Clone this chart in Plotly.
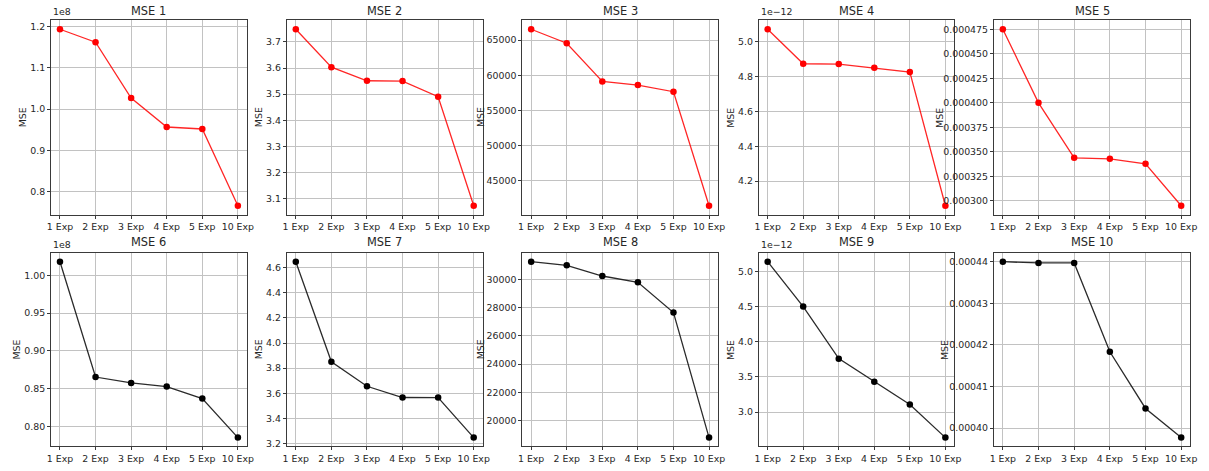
import numpy as np
import plotly.graph_objects as go

# ---------------- data ----------------
categories = ["1 Exp", "2 Exp", "3 Exp", "4 Exp", "5 Exp", "10 Exp"]
titles = ["MSE 1", "MSE 2", "MSE 3", "MSE 4", "MSE 5",
          "MSE 6", "MSE 7", "MSE 8", "MSE 9", "MSE 10"]

mse1 = [1.1928e8, 1.1614e8, 1.0265e8, 0.9566e8, 0.9518e8, 0.7663e8]
mse2 = [3.7483, 3.6034, 3.5513, 3.5500, 3.4903, 3.0733]
mse3 = [66560, 64574, 59137, 58617, 57671, 41454]
mse4 = [5.0724e-12, 4.8743e-12, 4.8724e-12, 4.8514e-12, 4.8267e-12, 4.0590e-12]
mse5 = [0.000475, 0.0003999, 0.0003438, 0.0003428, 0.0003377, 0.0002949]
mse6 = [1.0179e8, 0.8656e8, 0.8578e8, 0.8530e8, 0.8372e8, 0.7856e8]
mse7 = [4.6475, 3.8512, 3.6561, 3.5665, 3.5660, 3.2475]
mse8 = [31274, 31014, 30259, 29811, 27665, 18774]
mse9 = [5.137e-12, 4.500e-12, 3.7594e-12, 3.4292e-12, 3.1085e-12, 2.6368e-12]
mse10 = [0.00044, 0.0004397, 0.0004397, 0.00041833, 0.0004047, 0.00039769]

series = [mse1, mse2, mse3, mse4, mse5, mse6, mse7, mse8, mse9, mse10]

# tick settings per panel: (scale, step, decimals, offset label)
tick_cfg = [
    (1e8, 0.1, 1, "1e8"),
    (1, 0.1, 1, None),
    (1, 5000, 0, None),
    (1e-12, 0.2, 1, "1e\u221212"),
    (1, 0.000025, 6, None),
    (1e8, 0.05, 2, "1e8"),
    (1, 0.2, 1, None),
    (1, 2000, 0, None),
    (1e-12, 0.5, 1, "1e\u221212"),
    (1, 0.00001, 5, None),
]

# ---------------- layout geometry (pixels) ----------------
W, H = 1209, 471
col_px = [(47.5, 245), (285.5, 483), (523, 720.5), (761.7, 959), (999, 1197)]
row_px = [(20.5, 215.5), (254, 448.3)]
ylab_x = [[19, 257, 481, 733, 944], [13, 257, 481, 733, 949]]
title_y = [11, 243.5]

FONT = "DejaVu Sans"
TICK = 9.4
TITLE = 11.4
TXT = "#262626"
AX = "#3a3a3a"
GRID = "#c2c2c2"

fig = go.Figure()
layout = dict(width=W, height=H, margin=dict(l=0, r=0, t=0, b=0),
              paper_bgcolor="white", plot_bgcolor="white",
              showlegend=False, font=dict(family=FONT, size=TICK, color=TXT))
annotations = []

for i, vals in enumerate(series):
    r, c = divmod(i, 5)
    n = i + 1
    xa = "x" if n == 1 else f"x{n}"
    ya = "y" if n == 1 else f"y{n}"
    red = r == 0
    line_col = "rgba(255,0,0,0.85)" if red else "rgba(20,20,20,0.9)"
    mk_col = "#ff0000" if red else "#000000"
    fig.add_trace(go.Scatter(
        x=categories, y=vals, mode="lines+markers",
        line=dict(color=line_col, width=1.3),
        marker=dict(color=mk_col, size=6.5),
        xaxis=xa, yaxis=ya))

    x0, x1 = col_px[c]
    yt, yb = row_px[r]
    xdom = [x0 / W, x1 / W]
    ydom = [(H - yb) / H, (H - yt) / H]

    vmin, vmax = min(vals), max(vals)
    pad = 0.05 * (vmax - vmin)
    lo, hi = vmin - pad, vmax + pad

    scale, step, dec, off = tick_cfg[i]
    k0 = int(np.ceil(lo / scale / step - 1e-9))
    k1 = int(np.floor(hi / scale / step + 1e-9))
    tv = [k * step * scale for k in range(k0, k1 + 1)]
    tt = [f"{k * step:.{dec}f}" for k in range(k0, k1 + 1)]

    common = dict(showline=True, linecolor=AX, linewidth=1, mirror=True,
                  ticks="outside", ticklen=3, tickcolor=AX, tickwidth=1,
                  showgrid=True, gridcolor=GRID, gridwidth=1, zeroline=False,
                  tickfont=dict(family=FONT, size=TICK, color=TXT))
    layout["xaxis" if n == 1 else f"xaxis{n}"] = dict(
        domain=xdom, anchor=ya, type="category", range=[-0.25, 5.25], **common)
    layout["yaxis" if n == 1 else f"yaxis{n}"] = dict(
        domain=ydom, anchor=xa, range=[lo, hi], tickmode="array",
        tickvals=tv, ticktext=tt, **common)

    # title
    annotations.append(dict(text=titles[i], xref="paper", yref="paper",
                            x=(x0 + x1) / 2 / W, y=(H - title_y[r]) / H,
                            xanchor="center", yanchor="middle", showarrow=False,
                            font=dict(family=FONT, size=TITLE, color=TXT)))
    # y label
    annotations.append(dict(text="MSE", xref="paper", yref="paper",
                            x=ylab_x[r][c] / W, y=(H - (yt + yb) / 2) / H,
                            xanchor="center", yanchor="middle", showarrow=False,
                            textangle=-90,
                            font=dict(family=FONT, size=TICK, color=TXT)))
    # offset text
    if off:
        annotations.append(dict(text=off, xref="paper", yref="paper",
                                x=x0 / W, y=(H - yt + 1) / H,
                                xanchor="left", yanchor="bottom", showarrow=False,
                                font=dict(family=FONT, size=TICK, color=TXT)))

layout["annotations"] = annotations
fig.update_layout(**layout)
fig.write_html("out.html")
